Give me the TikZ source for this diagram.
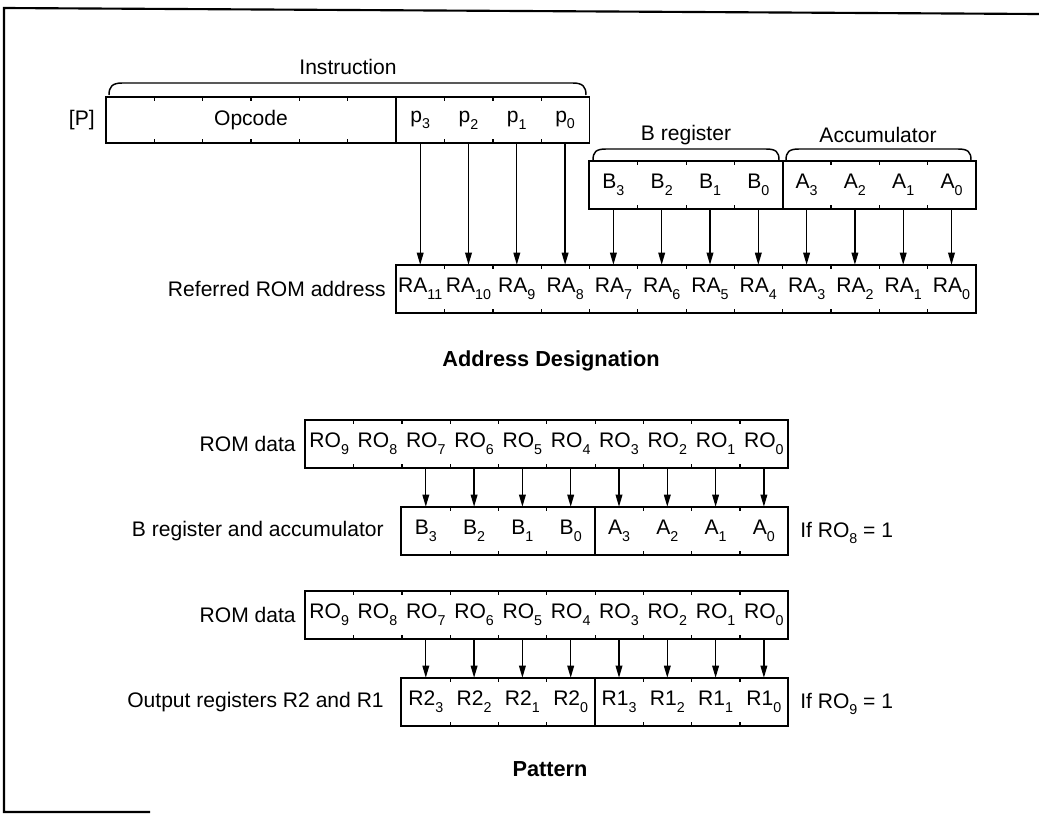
\documentclass[tikz,border=0pt]{standalone}
\usepackage{fontspec}
\setmainfont{Liberation Sans}
\usetikzlibrary{arrows.meta}
\newcommand\bsub[1]{\raisebox{-0.32em}{\fontsize{10.7pt}{11pt}\selectfont #1}}
\begin{document}
\begin{tikzpicture}[x=0.75pt,y=-0.75pt,
  txt/.style={font=\fontsize{15.8pt}{18pt}\selectfont, inner sep=0pt},
  bold/.style={font=\fontsize{16.3pt}{18pt}\selectfont\bfseries, inner sep=0pt},
  cell/.style={txt, minimum width=36.225pt, minimum height=36pt},
  box/.style={line width=1.4pt},
  tick/.style={line width=0.9pt},
  brace/.style={line width=1.1pt},
  arr/.style={line width=1pt, -{Triangle[length=9pt,width=5pt]}},
  frame/.style={line width=1.6pt}]
\useasboundingbox (0,0) rectangle (1039,814);
% frame
\draw[frame] (1039,14) -- (4,8) -- (4,812) -- (150,812);

% ---------- Instruction row ----------
\node[cell, minimum width=6*36.225pt, minimum height=34.5pt] (opc) at (251,120) {Opcode};
\foreach \i/\n in {0/3,1/2,2/1,3/0}
  \node[cell, minimum height=34.5pt] (p\n) at ({420.2+48.3*\i},120) {p\bsub{\n}};
\draw[box] (opc.north west) rectangle (p0.south east);
\draw[box] (opc.north east) -- (opc.south east);
\foreach \k in {1,...,5}
  \draw[tick] ({106+48.3*\k},97) -- ++(0,4) ({106+48.3*\k},143) -- ++(0,-4);
\foreach \n in {3,2,1}
  \draw[tick] (p\n.north east) -- ++(0,4) (p\n.south east) -- ++(0,-4);
\node[txt, anchor=east] (plab) at (95,120) {[P]};
\node[txt] (instr) at (348,67) {Instruction};
\draw[brace] (109,95) .. controls (109,87) and (112,83) .. (122,83) -- (573,83) .. controls (583,83) and (586,87) .. (586,95);

% ---------- B register / Accumulator row ----------
\foreach \i/\n in {0/3,1/2,2/1,3/0}{
  \node[cell] (b\n) at ({613.4+48.3*\i},185) {B\bsub{\n}};
  \node[cell] (a\n) at ({806.6+48.3*\i},185) {A\bsub{\n}};
}
\draw[box] (b3.north west) rectangle (a0.south east);
\draw[box] (b0.north east) -- (b0.south east);
\foreach \n in {3,2,1}
  \draw[tick] (b\n.north east) -- ++(0,4) (b\n.south east) -- ++(0,-4)
              (a\n.north east) -- ++(0,4) (a\n.south east) -- ++(0,-4);
\node[txt] (blab) at (686,135) {B register};
\node[txt] (alab) at (878,135) {Accumulator};
\draw[brace] (593,160) .. controls (593,152) and (596,149) .. (606,149) -- (766,149) .. controls (776,149) and (779,152) .. (779,160);
\draw[brace] (786,160) .. controls (786,152) and (789,149) .. (799,149) -- (958,149) .. controls (968,149) and (971,152) .. (971,160);

% ---------- Referred ROM address ----------
\foreach \i/\n in {0/11,1/10,2/9,3/8,4/7,5/6,6/5,7/4,8/3,9/2,10/1,11/0}
  \node[cell] (ra\n) at ({420.2+48.3*\i},289) {RA\bsub{\n}};
\draw[box] (ra11.north west) rectangle (ra0.south east);
\foreach \n in {11,10,9,8,7,6,5,4,3,2,1}
  \draw[tick] (ra\n.north east) -- ++(0,4) (ra\n.south east) -- ++(0,-4);
\node[txt, anchor=east] (ralab) at (386,289) {Referred ROM address};
\node[bold] (addr) at (551,361) {Address Designation};

\foreach \n/\m in {3/11,2/10,1/9,0/8}
  \draw[arr] (p\n.south) -- (p\n.south |- ra\m.north);
\foreach \n/\m in {3/7,2/6,1/5,0/4}
  \draw[arr] (b\n.south) -- (b\n.south |- ra\m.north);
\foreach \n/\m in {3/3,2/2,1/1,0/0}
  \draw[arr] (a\n.south) -- (a\n.south |- ra\m.north);

% ---------- ROM data 1 ----------
\foreach \i/\n in {0/9,1/8,2/7,3/6,4/5,5/4,6/3,7/2,8/1,9/0}
  \node[cell] (ro\n) at ({329.2+48.3*\i},444) {RO\bsub{\n}};
\draw[box] (ro9.north west) rectangle (ro0.south east);
\foreach \n in {9,8,7,6,5,4,3,2,1}
  \draw[tick] (ro\n.north east) -- ++(0,4) (ro\n.south east) -- ++(0,-4);
\node[txt, anchor=east] (rolab) at (296,444) {ROM data};

% ---------- B register and accumulator ----------
\foreach \i/\n in {0/3,1/2,2/1,3/0}{
  \node[cell] (bb\n) at ({425.8+48.3*\i},531) {B\bsub{\n}};
  \node[cell] (aa\n) at ({619+48.3*\i},531) {A\bsub{\n}};
}
\draw[box] (bb3.north west) rectangle (aa0.south east);
\draw[box] (bb0.north east) -- (bb0.south east);
\foreach \n in {3,2,1}
  \draw[tick] (bb\n.north east) -- ++(0,4) (bb\n.south east) -- ++(0,-4)
              (aa\n.north east) -- ++(0,4) (aa\n.south east) -- ++(0,-4);
\node[txt, anchor=east] (bblab) at (384,531) {B register and accumulator};
\node[txt, anchor=west] (if8) at (800,533) {If RO\bsub{8} = 1};
\foreach \n/\m in {7/3,6/2,5/1,4/0}
  \draw[arr] (ro\n.south) -- (ro\n.south |- bb\m.north);
\foreach \n/\m in {3/3,2/2,1/1,0/0}
  \draw[arr] (ro\n.south) -- (ro\n.south |- aa\m.north);

% ---------- ROM data 2 ----------
\foreach \i/\n in {0/9,1/8,2/7,3/6,4/5,5/4,6/3,7/2,8/1,9/0}
  \node[cell] (rp\n) at ({329.2+48.3*\i},615) {RO\bsub{\n}};
\draw[box] (rp9.north west) rectangle (rp0.south east);
\foreach \n in {9,8,7,6,5,4,3,2,1}
  \draw[tick] (rp\n.north east) -- ++(0,4) (rp\n.south east) -- ++(0,-4);
\node[txt, anchor=east] (rplab) at (296,615) {ROM data};

% ---------- Output registers ----------
\foreach \i/\n in {0/3,1/2,2/1,3/0}{
  \node[cell] (rtw\n) at ({425.8+48.3*\i},702) {R2\bsub{\n}};
  \node[cell] (rone\n) at ({619+48.3*\i},702) {R1\bsub{\n}};
}
\draw[box] (rtw3.north west) rectangle (rone0.south east);
\draw[box] (rtw0.north east) -- (rtw0.south east);
\foreach \n in {3,2,1}
  \draw[tick] (rtw\n.north east) -- ++(0,4) (rtw\n.south east) -- ++(0,-4)
              (rone\n.north east) -- ++(0,4) (rone\n.south east) -- ++(0,-4);
\node[txt, anchor=east] (outlab) at (384,702) {Output registers R2 and R1};
\node[txt, anchor=west] (if9) at (800,704) {If RO\bsub{9} = 1};
\foreach \n/\m in {7/3,6/2,5/1,4/0}
  \draw[arr] (rp\n.south) -- (rp\n.south |- rtw\m.north);
\foreach \n/\m in {3/3,2/2,1/1,0/0}
  \draw[arr] (rp\n.south) -- (rp\n.south |- rone\m.north);
\node[bold] (pat) at (550,769) {Pattern};
\end{tikzpicture}
\end{document}
